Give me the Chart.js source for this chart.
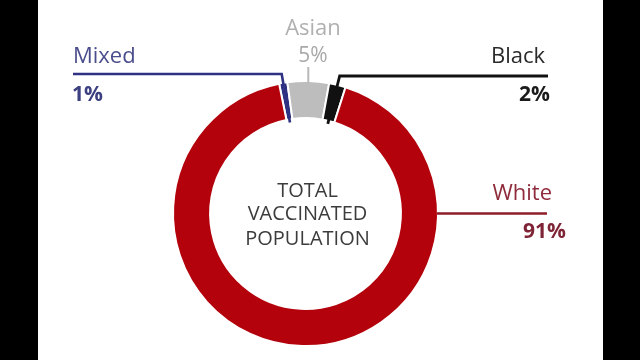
<!DOCTYPE html>
<html>
<head>
<meta charset="utf-8">
<script src="https://cdn.jsdelivr.net/npm/chart.js@4/dist/chart.umd.min.js"></script>
<style>
  html, body { margin: 0; padding: 0; background: #000; }
  #wrap { position: relative; width: 640px; height: 360px; background: #000; overflow: hidden; }
  #panel { position: absolute; left: 38px; top: 0; width: 565px; height: 360px; background: #fff; }
  #c { position: absolute; left: 0; top: 0; }
</style>
</head>
<body>
<div id="wrap">
  <div id="panel"></div>
  <canvas id="c" width="640" height="360"></canvas>
</div>
<script>
const categories = ['Mixed', 'Asian', 'Black', 'White'];
const values = [1, 5, 2, 91];
const valueLabels = ['1%', '5%', '2%', '91%'];
const centerLines = ['TOTAL', 'VACCINATED', 'POPULATION'];

const sliceColors = ['#2f3282', '#bdbdbd', '#111111', '#b3020b'];
const textColors = ['#4b4e8c', '#b0b0b0', '#2a2a2a', '#8e2c3c'];
const pctColors = ['#3d4080', '#a9a9a9', '#1a1a1a', '#7e2436'];
const FONT = '"Open Sans", "DejaVu Sans", sans-serif';

const labelsPlugin = {
  id: 'labelsPlugin',
  afterDatasetsDraw(chart) {
    const ctx = chart.ctx;
    const arcs = chart.getDatasetMeta(0).data;
    const mid = a => (a.startAngle + a.endAngle) / 2;
    const pt = (a, ang, r) => [a.x + Math.cos(ang) * r, a.y + Math.sin(ang) * r];
    ctx.save();
    ctx.lineCap = 'butt';
    ctx.lineJoin = 'miter';

    // Mixed leader
    {
      const a = arcs[0], ang = mid(a);
      const p0 = pt(a, ang, a.innerRadius - 3);
      const yTop = 74;
      const t = (p0[1] - yTop) / -Math.sin(ang);
      const p1 = [p0[0] + Math.cos(ang) * t, yTop];
      ctx.strokeStyle = sliceColors[0];
      ctx.lineWidth = 2.6;
      ctx.beginPath();
      ctx.moveTo(p0[0], p0[1]);
      ctx.lineTo(p1[0], p1[1]);
      ctx.lineTo(73, yTop);
      ctx.stroke();
    }
    // Black leader
    {
      const a = arcs[2], ang = mid(a);
      const p0 = pt(a, ang, a.innerRadius - 3);
      const yTop = 76;
      const t = (p0[1] - yTop) / -Math.sin(ang);
      const p1 = [p0[0] + Math.cos(ang) * t, yTop];
      ctx.strokeStyle = sliceColors[2];
      ctx.lineWidth = 2.8;
      ctx.beginPath();
      ctx.moveTo(p0[0], p0[1]);
      ctx.lineTo(p1[0], p1[1]);
      ctx.lineTo(548, yTop);
      ctx.stroke();
    }
    // Asian tick
    {
      const a = arcs[1], ang = mid(a);
      const p0 = pt(a, ang, a.outerRadius - 2);
      ctx.strokeStyle = '#b8b8b8';
      ctx.lineWidth = 2;
      ctx.beginPath();
      ctx.moveTo(p0[0], p0[1]);
      ctx.lineTo(p0[0], 67);
      ctx.stroke();
    }
    // White leader
    {
      const a = arcs[3];
      ctx.strokeStyle = '#8e1d2a';
      ctx.lineWidth = 2.6;
      ctx.beginPath();
      ctx.moveTo(a.x + a.outerRadius - 1, a.y);
      ctx.lineTo(547, a.y);
      ctx.stroke();
    }

    // texts
    const txt = (s, x, y, align, color, weight, size) => {
      ctx.font = `${weight} ${size}px ${FONT}`;
      ctx.fillStyle = color;
      ctx.textAlign = align;
      ctx.textBaseline = 'alphabetic';
      ctx.fillText(s, x, y);
    };
    txt(categories[0], 73, 63, 'left', textColors[0], 400, 22);
    txt(valueLabels[0], 72, 101, 'left', pctColors[0], 700, 21);
    txt(categories[1], 313, 35, 'center', textColors[1], 400, 22);
    txt(valueLabels[1], 313, 62, 'center', pctColors[1], 400, 21);
    txt(categories[2], 545, 63, 'right', textColors[2], 400, 22);
    txt(valueLabels[2], 550, 101, 'right', pctColors[2], 700, 21);
    txt(categories[3], 552, 200, 'right', textColors[3], 400, 22);
    txt(valueLabels[3], 566, 238, 'right', pctColors[3], 700, 21);

    // center text
    const a0 = arcs[0];
    const cx = a0.x + 2;
    const baselines = [197, 220, 245];
    centerLines.forEach((s, i) => txt(s, cx, baselines[i], 'center', '#3c3c3c', 400, 20));
    ctx.restore();
  }
};

new Chart(document.getElementById('c'), {
  type: 'doughnut',
  data: {
    labels: categories,
    datasets: [{
      data: values,
      backgroundColor: sliceColors,
      borderColor: '#ffffff',
      borderWidth: 2,
      borderAlign: 'center'
    }]
  },
  options: {
    responsive: false,
    animation: false,
    rotation: -11.5,
    cutout: '72%',
    layout: { padding: { left: 172, top: 80, right: 201, bottom: 13 } },
    plugins: { legend: { display: false }, tooltip: { enabled: false }, title: { display: false } },
    events: []
  },
  plugins: [labelsPlugin]
});
</script>
</body>
</html>
